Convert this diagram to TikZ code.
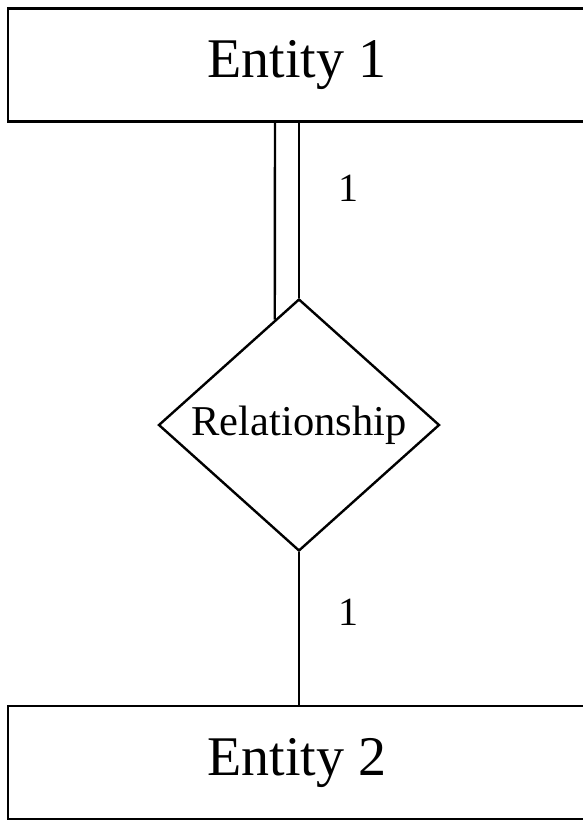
\documentclass[tikz,border=0pt]{standalone}
\usepackage{fontspec}
\setmainfont{Liberation Serif}
\usetikzlibrary{calc,shapes.geometric}
\tikzset{
  entity/.style={draw,line width=2.4pt,minimum width=578pt,minimum height=113pt,
    inner sep=0pt,font=\fontsize{56}{60}\selectfont},
  relation/.style={draw,diamond,line width=2.4pt,aspect=1.115,inner sep=0pt,
    minimum width=281pt,minimum height=252pt,font=\fontsize{42.5}{44}\selectfont},
  link/.style={line width=2.4pt},
  card/.style={font=\fontsize{40}{44}\selectfont}
}

\begin{document}
\begin{tikzpicture}[x=1pt,y=-1pt]
\useasboundingbox (0,0) rectangle (583,820);
\clip (0,0) rectangle (583,820);

\node[entity] (E1) at (297,65) {Entity 1};
\node[entity] (E2) at (297,762.5) {Entity 2};
\node[relation] (R) at (299,425) {Relationship};

\coordinate (top) at (E1.south -| R.north);
\coordinate (topL) at ($(top)+(-24,0)$);
\coordinate (edgeL) at ($(R.north)!0.171!(R.west)$);

% double line to entity 1
\draw[link] (top) -- (R.north);
\draw[link] (topL) -- (edgeL);
% single line to entity 2
\draw[link] (R.south) -- (R.south |- E2.north);

\node[card] (c1) at (348,188) {1};
\node[card] (c2) at (348,612) {1};
\end{tikzpicture}
\end{document}
